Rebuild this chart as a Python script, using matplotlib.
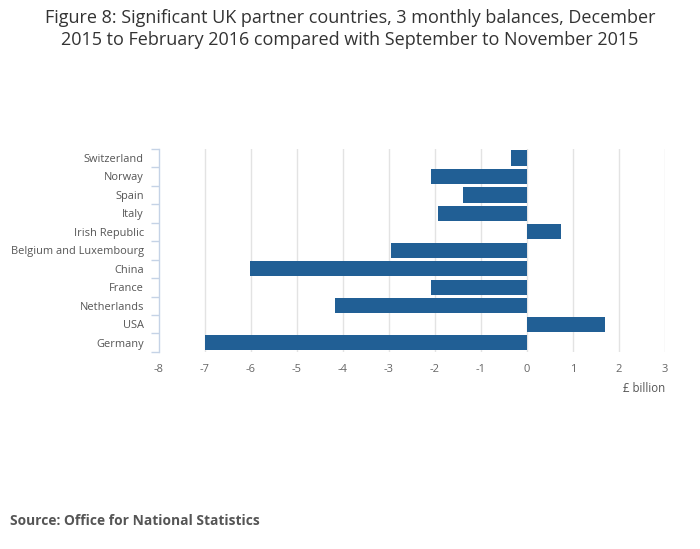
import numpy as np
import matplotlib
matplotlib.use('Agg')
import matplotlib.pyplot as plt
from matplotlib.ticker import FixedLocator

plt.rcParams['font.family'] = ['Open Sans', 'DejaVu Sans']

countries = ['Switzerland', 'Norway', 'Spain', 'Italy', 'Irish Republic',
             'Belgium and Luxembourg', 'China', 'France', 'Netherlands',
             'USA', 'Germany']
balances = [-0.35, -2.08, -1.39, -1.93, 0.73, -2.95, -6.02, -2.08, -4.18,
            1.69, -7.0]
xticks = [-8, -7, -6, -5, -4, -3, -2, -1, 0, 1, 2, 3]

fig = plt.figure(figsize=(7, 5.49), dpi=100)
ax = fig.add_axes([0.227, 0.359, 0.723, 0.37])

y = np.arange(len(countries))
ax.barh(y, balances, height=0.82, color='#215f95', zorder=3)

ax.set_ylim(len(countries) - 0.5, -0.5)
ax.set_xlim(-8, 3)
ax.set_xticks(xticks)
ax.set_xticklabels([str(t) for t in xticks])
ax.set_yticks(y)
ax.set_yticklabels(countries)

# gridlines at every integer except the axis
for t in xticks[1:]:
    ax.axvline(t, color='#e3e3e3', lw=1, zorder=1)

for s in ['top', 'right', 'bottom']:
    ax.spines[s].set_visible(False)
ax.spines['left'].set_color('#c5d3e6')
ax.spines['left'].set_linewidth(1)

ax.tick_params(axis='x', length=0, labelsize=8, labelcolor='#666666', pad=9)
ax.tick_params(axis='y', which='major', length=0, labelsize=7.95,
               labelcolor='#555555', pad=10.8)
ax.yaxis.set_minor_locator(FixedLocator(np.arange(-0.5, len(countries), 1)))
ax.tick_params(axis='y', which='minor', length=6, color='#c5d3e6', width=1)

fig.text(0.95, 1 - 389 / 549, '£ billion', ha='right', va='center',
         fontsize=8.3, color='#555555')

fig.text(0.5, 1 - 29 / 549,
         'Figure 8: Significant UK partner countries, 3 monthly balances, December\n'
         '2015 to February 2016 compared with September to November 2015',
         ha='center', va='center', fontsize=13, color='#333333',
         linespacing=1.22)

fig.text(10 / 700, 1 - 521 / 549, 'Source: Office for National Statistics',
         ha='left', va='center', fontsize=9.9, fontweight='bold',
         color='#555555')

fig.savefig('out.png', dpi=100)
